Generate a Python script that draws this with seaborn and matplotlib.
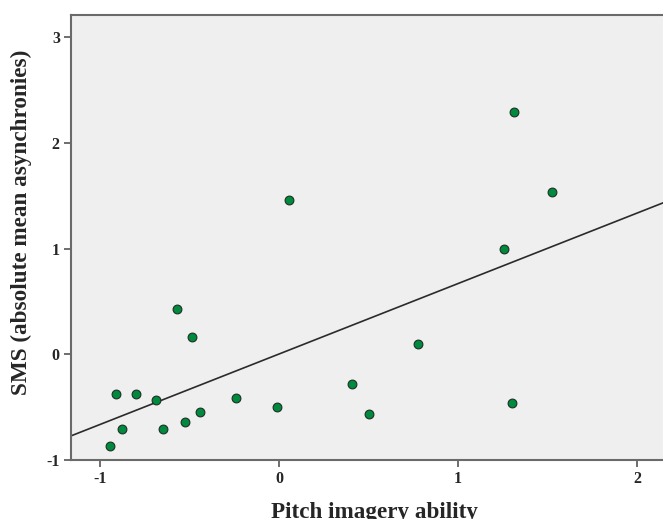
import matplotlib
matplotlib.use("Agg")
import matplotlib.pyplot as plt
import seaborn as sns
import pandas as pd

# values
pitch_imagery = [-0.944, -0.911, -0.877, -0.799, -0.687, -0.648, -0.570, -0.525,
                 -0.486, -0.441, -0.240, -0.011, 0.056, 0.410, 0.505, 0.777,
                 1.303, 1.257, 1.311, 1.525]
sms_async = [-0.872, -0.379, -0.711, -0.379, -0.436, -0.711, 0.427, -0.645,
             0.161, -0.550, -0.417, -0.502, 1.460, -0.280, -0.569, 0.098,
             -0.458, 0.995, 2.297, 1.533]
x_ticks = [-1, 0, 1, 2]
y_ticks = [-1, 0, 1, 2, 3]

df = pd.DataFrame({"x": pitch_imagery, "y": sms_async})

sns.set_style("white")
plt.rcParams['font.family'] = ['Liberation Serif', 'DejaVu Serif']
plt.rcParams['font.weight'] = 'bold'
plt.rcParams['axes.unicode_minus'] = False

fig = plt.figure(figsize=(6.63, 5.19), dpi=100)
ax = fig.add_axes([0.107, 0.1137, 0.893, 0.857])
ax.set_facecolor("#efefef")

# limits first so the fit line spans the whole frame
ax.set_xlim(-1.162, 2.145)
ax.set_ylim(-1.0, 3.21)

sns.regplot(data=df, x="x", y="y", ax=ax, ci=None, truncate=False,
            scatter_kws=dict(s=40, color="#008a3e", edgecolors="#1f2f25", linewidths=0.8, alpha=1, zorder=3),
            line_kws=dict(color="#2b2b2b", lw=1.2))

ax.set_xlim(-1.162, 2.145)
ax.set_ylim(-1.0, 3.21)
ax.set_xticks(x_ticks)
ax.set_yticks(y_ticks)
ax.tick_params(axis="both", direction="out", length=5, width=1.2, color="#555555",
               labelsize=11.5, pad=3, bottom=True, left=True)
for lab in ax.get_xticklabels() + ax.get_yticklabels():
    lab.set_fontweight("bold")

for side in ["left", "bottom", "top"]:
    ax.spines[side].set_color("#6a6a6a")
    ax.spines[side].set_linewidth(1.5)
ax.spines["right"].set_visible(False)

ax.set_xlabel("Pitch imagery ability", fontsize=16.7, fontweight="bold")
ax.set_ylabel("SMS (absolute mean asynchronies)", fontsize=16.7, fontweight="bold")
ax.xaxis.set_label_coords(0.512, -0.095, transform=ax.transAxes)
ax.xaxis.label.set_va("top")
ax.yaxis.set_label_coords(-0.084, 0.535)
ax.yaxis.label.set_va("center")

fig.savefig("out.png", dpi=100)
